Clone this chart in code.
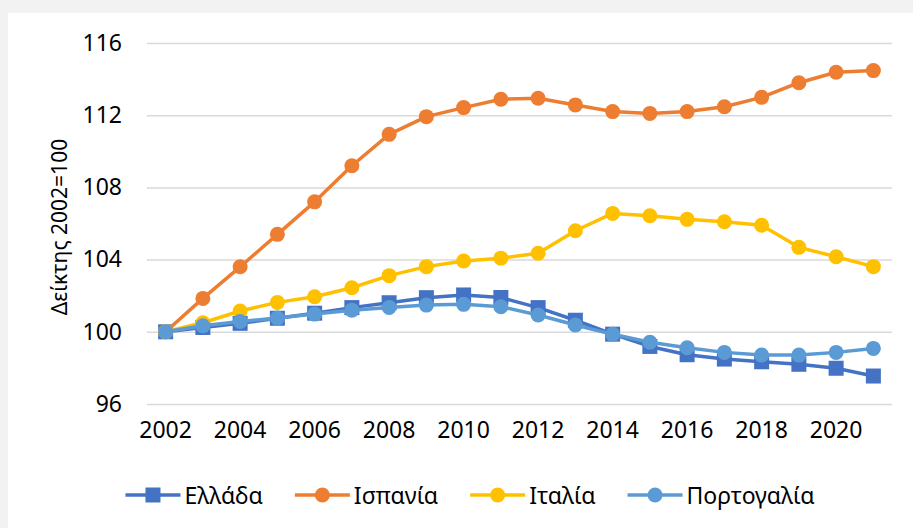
<!DOCTYPE html>
<html>
<head>
<meta charset="utf-8">
<script src="https://cdn.jsdelivr.net/npm/d3@7"></script>
<style>
  body { margin: 0; background: #f2f2f2; }
  svg { display: block; }
  text { font-family: 'Noto Sans', sans-serif; fill: #000; }
</style>
</head>
<body>
<div id="chart"></div>
<script>
const years = d3.range(2002, 2022)
const yTicks = [96, 100, 104, 108, 112, 116]
const xTickYears = [2002, 2004, 2006, 2008, 2010, 2012, 2014, 2016, 2018, 2020]

const greece = [100, 100.24, 100.47, 100.75, 101.03, 101.34, 101.61, 101.89, 102.04, 101.9,
  101.34, 100.64, 99.87, 99.19, 98.73, 98.49, 98.34, 98.2, 97.98, 97.55]
const spain = [100, 101.85, 103.6, 105.4, 107.2, 109.2, 110.94, 111.92, 112.42, 112.88,
  112.94, 112.57, 112.2, 112.1, 112.2, 112.47, 112.99, 113.8, 114.38, 114.47]
const italy = [100, 100.5, 101.15, 101.63, 101.94, 102.44, 103.11, 103.61, 103.92, 104.08,
  104.35, 105.6, 106.56, 106.43, 106.23, 106.1, 105.9, 104.68, 104.16, 103.61]
const portugal = [100, 100.33, 100.57, 100.76, 100.98, 101.2, 101.35, 101.48, 101.52, 101.39,
  100.93, 100.38, 99.86, 99.42, 99.12, 98.86, 98.71, 98.71, 98.86, 99.08]

const series = [
  { name: 'Ελλάδα', values: greece, color: '#4472C4', shape: 'square' },
  { name: 'Ισπανία', values: spain, color: '#ED7D31', shape: 'circle' },
  { name: 'Ιταλία', values: italy, color: '#FFC000', shape: 'circle' },
  { name: 'Πορτογαλία', values: portugal, color: '#5B9BD5', shape: 'circle' }
]

const width = 913
const height = 528
const plot = { left: 147, right: 892, top: 43, bottom: 404 }

const svg = d3
  .select('#chart')
  .append('svg')
  .attr('width', width)
  .attr('height', height)

// white chart panel
svg
  .append('rect')
  .attr('x', 8)
  .attr('y', 13)
  .attr('width', width - 8)
  .attr('height', height - 13)
  .attr('fill', '#fff')

const xPositionScale = d3
  .scaleBand()
  .domain(years)
  .range([plot.left, plot.right])

const yPositionScale = d3
  .scaleLinear()
  .domain([96, 116])
  .range([plot.bottom, plot.top])

// gridlines + y labels
const yAxis = d3
  .axisLeft(yPositionScale)
  .tickValues(yTicks)
  .tickSize(-(plot.right - plot.left))
  .tickPadding(25)

svg
  .append('g')
  .attr('class', 'axis y-axis')
  .attr('transform', 'translate(' + plot.left + ',0)')
  .call(yAxis)
  .call(g => g.select('.domain').remove())
  .call(g => g.selectAll('line').attr('stroke', '#d9d9d9').attr('stroke-width', 1.5))
  .call(g => g.selectAll('text').attr('font-size', 23).attr('font-family', 'Noto Sans').attr('fill', '#000'))

const xAxis = d3
  .axisBottom(xPositionScale)
  .tickValues(xTickYears)
  .tickSize(0)
  .tickPadding(18)

svg
  .append('g')
  .attr('class', 'axis x-axis')
  .attr('transform', 'translate(0,' + plot.bottom + ')')
  .call(xAxis)
  .call(g => g.select('.domain').remove())
  .call(g => g.selectAll('text').attr('font-size', 23).attr('font-family', 'Noto Sans').attr('fill', '#000'))

svg
  .append('text')
  .attr('transform', 'translate(59,227) rotate(-90)')
  .attr('text-anchor', 'middle')
  .attr('dominant-baseline', 'central')
  .attr('font-size', 21)
  .text('Δείκτης 2002=100')

const line = d3
  .line()
  .x((d, i) => xPositionScale(years[i]) + xPositionScale.bandwidth() / 2)
  .y(d => yPositionScale(d))

function drawMarker(g, shape, color, cx, cy) {
  if (shape === 'square') {
    g.append('rect')
      .attr('x', cx - 7.5)
      .attr('y', cy - 7.5)
      .attr('width', 15)
      .attr('height', 15)
      .attr('fill', color)
  } else {
    g.append('circle')
      .attr('cx', cx)
      .attr('cy', cy)
      .attr('r', 7.5)
      .attr('fill', color)
  }
}

series.forEach(s => {
  const g = svg.append('g').attr('class', 'series')
  g.append('path')
    .attr('d', line(s.values))
    .attr('fill', 'none')
    .attr('stroke', s.color)
    .attr('stroke-width', 3.5)
    .attr('stroke-linejoin', 'round')
  s.values.forEach((v, i) => {
    drawMarker(g, s.shape, s.color,
      xPositionScale(years[i]) + xPositionScale.bandwidth() / 2,
      yPositionScale(v))
  })
})

// legend
const legend = svg.append('g').attr('class', 'legend')
const legendY = 495
let lx = 0
const items = []
series.forEach(s => {
  const item = legend.append('g')
  item.append('line')
    .attr('x1', 0).attr('x2', 55)
    .attr('y1', legendY).attr('y2', legendY)
    .attr('stroke', s.color)
    .attr('stroke-width', 3.5)
  drawMarker(item, s.shape, s.color, 27.5, legendY)
  const t = item.append('text')
    .attr('x', 59)
    .attr('y', legendY)
    .attr('dominant-baseline', 'central')
    .attr('font-size', 23)
    .text(s.name)
  item.attr('transform', 'translate(' + lx + ',0)')
  lx += 59 + t.node().getComputedTextLength() + 32
  items.push(item)
})
const legendWidth = lx - 32
legend.attr('transform', 'translate(' + (470 - legendWidth / 2) + ',0)')
</script>
</body>
</html>
